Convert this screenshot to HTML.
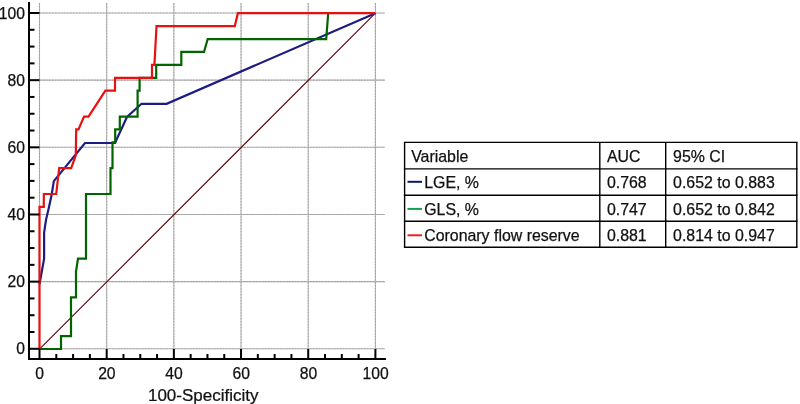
<!DOCTYPE html>
<html><head><meta charset="utf-8"><style>
html,body{margin:0;padding:0;background:#fff;}
body{width:800px;height:404px;overflow:hidden;}
svg{display:block;font-family:"Liberation Sans",sans-serif;will-change:transform;filter:blur(0.25px);}
.gvb{stroke:#b4b4b4;stroke-width:1.1;}
.gvd{stroke:#8c8c8c;stroke-width:1.1;stroke-dasharray:1.5 1.5;opacity:0.5}
.ghb{stroke:#b4b4b4;stroke-width:1.1;}
.ghd{stroke:#8c8c8c;stroke-width:1.1;stroke-dasharray:1.5 1.5;opacity:0.5}
.tl{font-size:15.7px;fill:#111;stroke:#111;stroke-width:0.25px;}
.tt{font-size:17px;fill:#111;stroke:#111;stroke-width:0.25px;}
.td{font-size:15.9px;fill:#111;stroke:#111;stroke-width:0.25px;}
</style></head><body>
<svg width="800" height="404" viewBox="0 0 800 404">
<line x1="39.50" y1="3" x2="39.50" y2="349" class="gvb"/>
<line x1="39.50" y1="3" x2="39.50" y2="349" class="gvd"/>
<line x1="40" y1="348.80" x2="385" y2="348.80" class="ghb"/>
<line x1="40" y1="348.80" x2="385" y2="348.80" class="ghd"/>
<line x1="106.68" y1="3" x2="106.68" y2="349" class="gvb"/>
<line x1="106.68" y1="3" x2="106.68" y2="349" class="gvd"/>
<line x1="40" y1="281.64" x2="385" y2="281.64" class="ghb"/>
<line x1="40" y1="281.64" x2="385" y2="281.64" class="ghd"/>
<line x1="173.86" y1="3" x2="173.86" y2="349" class="gvb"/>
<line x1="173.86" y1="3" x2="173.86" y2="349" class="gvd"/>
<line x1="40" y1="214.48" x2="385" y2="214.48" class="ghb"/>
<line x1="40" y1="214.48" x2="385" y2="214.48" class="ghd"/>
<line x1="241.04" y1="3" x2="241.04" y2="349" class="gvb"/>
<line x1="241.04" y1="3" x2="241.04" y2="349" class="gvd"/>
<line x1="40" y1="147.32" x2="385" y2="147.32" class="ghb"/>
<line x1="40" y1="147.32" x2="385" y2="147.32" class="ghd"/>
<line x1="308.22" y1="3" x2="308.22" y2="349" class="gvb"/>
<line x1="308.22" y1="3" x2="308.22" y2="349" class="gvd"/>
<line x1="40" y1="80.16" x2="385" y2="80.16" class="ghb"/>
<line x1="40" y1="80.16" x2="385" y2="80.16" class="ghd"/>
<line x1="375.40" y1="3" x2="375.40" y2="349" class="gvb"/>
<line x1="375.40" y1="3" x2="375.40" y2="349" class="gvd"/>
<line x1="40" y1="13.00" x2="385" y2="13.00" class="ghb"/>
<line x1="40" y1="13.00" x2="385" y2="13.00" class="ghd"/>
<line x1="39.5" y1="349.1" x2="375.4" y2="13.2" stroke="#5e000e" stroke-width="1.15"/>
<polyline points="39.5,284.43 44.1,258.6 44.1,232.77 46,219.85 49,206.94 51.8,194.02 53.8,181.11 85,143.0 115,143.0 127,117.0 141.5,103.8 166.6,103.8 375.4,13.21" fill="none" stroke="#1c1c82" stroke-width="2.2" stroke-linejoin="miter" stroke-miterlimit="3"/>
<polyline points="39.5,349.0 61,349.0 61,336.08 71,336.08 71,297.34 76,297.34 76,271.51 78,258.6 86,258.6 86,194.02 110.5,194.02 110.5,168.19 112.5,168.19 112.5,142.36 115.2,142.36 115.2,129.45 119.8,129.45 119.8,116.53 137.6,116.53 137.6,90.7 139.6,90.7 139.6,77.79 156.2,77.79 156.2,64.87 181.3,64.87 181.3,51.96 204,51.96 207.7,39.04 326.2,39.04 328.2,13.21" fill="none" stroke="#006400" stroke-width="2.2" stroke-linejoin="miter" stroke-miterlimit="3"/>
<polyline points="39.5,349.0 39.5,206.94 43.8,206.94 43.8,194.02 56.2,194.02 59.2,168.19 71.2,168.19 75.8,155.28 76.2,129.45 78.5,129.45 84,116.53 88.5,116.53 105.4,90.7 115,90.7 115,77.79 152,77.79 152,64.87 154.4,64.87 156.5,26.12 234.8,26.12 237.9,13.21 375.4,13.21" fill="none" stroke="#e81010" stroke-width="2.2" stroke-linejoin="miter" stroke-miterlimit="3"/>
<rect x="28" y="2" width="2" height="358" fill="#000"/>
<rect x="28" y="358" width="358" height="2" fill="#000"/>
<rect x="30" y="347.80" width="9.5" height="2" fill="#000"/>
<rect x="38.50" y="349" width="2" height="9" fill="#000"/>
<rect x="30" y="331.01" width="4.5" height="2" fill="#000"/>
<rect x="55.30" y="354" width="2" height="4" fill="#000"/>
<rect x="30" y="314.22" width="4.5" height="2" fill="#000"/>
<rect x="72.09" y="354" width="2" height="4" fill="#000"/>
<rect x="30" y="297.43" width="4.5" height="2" fill="#000"/>
<rect x="88.88" y="354" width="2" height="4" fill="#000"/>
<rect x="30" y="280.64" width="9.5" height="2" fill="#000"/>
<rect x="105.68" y="349" width="2" height="9" fill="#000"/>
<rect x="30" y="263.85" width="4.5" height="2" fill="#000"/>
<rect x="122.47" y="354" width="2" height="4" fill="#000"/>
<rect x="30" y="247.06" width="4.5" height="2" fill="#000"/>
<rect x="139.27" y="354" width="2" height="4" fill="#000"/>
<rect x="30" y="230.27" width="4.5" height="2" fill="#000"/>
<rect x="156.06" y="354" width="2" height="4" fill="#000"/>
<rect x="30" y="213.48" width="9.5" height="2" fill="#000"/>
<rect x="172.86" y="349" width="2" height="9" fill="#000"/>
<rect x="30" y="196.69" width="4.5" height="2" fill="#000"/>
<rect x="189.65" y="354" width="2" height="4" fill="#000"/>
<rect x="30" y="179.90" width="4.5" height="2" fill="#000"/>
<rect x="206.45" y="354" width="2" height="4" fill="#000"/>
<rect x="30" y="163.11" width="4.5" height="2" fill="#000"/>
<rect x="223.25" y="354" width="2" height="4" fill="#000"/>
<rect x="30" y="146.32" width="9.5" height="2" fill="#000"/>
<rect x="240.04" y="349" width="2" height="9" fill="#000"/>
<rect x="30" y="129.53" width="4.5" height="2" fill="#000"/>
<rect x="256.84" y="354" width="2" height="4" fill="#000"/>
<rect x="30" y="112.74" width="4.5" height="2" fill="#000"/>
<rect x="273.63" y="354" width="2" height="4" fill="#000"/>
<rect x="30" y="95.95" width="4.5" height="2" fill="#000"/>
<rect x="290.43" y="354" width="2" height="4" fill="#000"/>
<rect x="30" y="79.16" width="9.5" height="2" fill="#000"/>
<rect x="307.22" y="349" width="2" height="9" fill="#000"/>
<rect x="30" y="62.37" width="4.5" height="2" fill="#000"/>
<rect x="324.01" y="354" width="2" height="4" fill="#000"/>
<rect x="30" y="45.58" width="4.5" height="2" fill="#000"/>
<rect x="340.81" y="354" width="2" height="4" fill="#000"/>
<rect x="30" y="28.79" width="4.5" height="2" fill="#000"/>
<rect x="357.60" y="354" width="2" height="4" fill="#000"/>
<rect x="30" y="12.00" width="9.5" height="2" fill="#000"/>
<rect x="374.40" y="349" width="2" height="9" fill="#000"/>
<text x="24.9" y="354.30" class="tl" text-anchor="end">0</text>
<text x="39.70" y="379.0" class="tl" text-anchor="middle">0</text>
<text x="24.9" y="287.14" class="tl" text-anchor="end">20</text>
<text x="106.88" y="379.0" class="tl" text-anchor="middle">20</text>
<text x="24.9" y="219.98" class="tl" text-anchor="end">40</text>
<text x="174.06" y="379.0" class="tl" text-anchor="middle">40</text>
<text x="24.9" y="152.82" class="tl" text-anchor="end">60</text>
<text x="241.24" y="379.0" class="tl" text-anchor="middle">60</text>
<text x="24.9" y="85.66" class="tl" text-anchor="end">80</text>
<text x="308.42" y="379.0" class="tl" text-anchor="middle">80</text>
<text x="24.9" y="18.50" class="tl" text-anchor="end">100</text>
<text x="375.60" y="379.0" class="tl" text-anchor="middle">100</text>
<text transform="translate(203.2,400.9) scale(1,0.95)" class="tt" text-anchor="middle">100-Specificity</text>
<line x1="403.90000000000003" y1="142.4" x2="797.5" y2="142.4" stroke="#000" stroke-width="1.4"/>
<line x1="403.90000000000003" y1="168.9" x2="797.5" y2="168.9" stroke="#000" stroke-width="1.4"/>
<line x1="403.90000000000003" y1="195.2" x2="797.5" y2="195.2" stroke="#000" stroke-width="1.4"/>
<line x1="403.90000000000003" y1="221.2" x2="797.5" y2="221.2" stroke="#000" stroke-width="1.4"/>
<line x1="403.90000000000003" y1="247.2" x2="797.5" y2="247.2" stroke="#000" stroke-width="1.4"/>
<line x1="404.6" y1="142.4" x2="404.6" y2="247.2" stroke="#000" stroke-width="1.4"/>
<line x1="599.8" y1="142.4" x2="599.8" y2="247.2" stroke="#000" stroke-width="1.4"/>
<line x1="665.7" y1="142.4" x2="665.7" y2="247.2" stroke="#000" stroke-width="1.4"/>
<line x1="796.8" y1="142.4" x2="796.8" y2="247.2" stroke="#000" stroke-width="1.4"/>
<text transform="translate(411.2,161.90) scale(1,1.0)" class="td">Variable</text>
<text transform="translate(606.9,161.90) scale(1,1.0)" class="td">AUC</text>
<text transform="translate(673.1,161.90) scale(1,1.0)" class="td">95% CI</text>
<line x1="407.5" y1="181.80" x2="422" y2="181.80" stroke="#0b1a62" stroke-width="2"/>
<text transform="translate(424.2,188.00) scale(1,1.0)" class="td">LGE, %</text>
<text transform="translate(606.9,188.00) scale(1,1.0)" class="td">0.768</text>
<text transform="translate(673.1,188.00) scale(1,1.0)" class="td">0.652 to 0.883</text>
<line x1="407.5" y1="208.90" x2="422" y2="208.90" stroke="#14a04c" stroke-width="2"/>
<text transform="translate(424.2,214.50) scale(1,1.0)" class="td">GLS, %</text>
<text transform="translate(606.9,214.50) scale(1,1.0)" class="td">0.747</text>
<text transform="translate(673.1,214.50) scale(1,1.0)" class="td">0.652 to 0.842</text>
<line x1="407.5" y1="235.30" x2="422" y2="235.30" stroke="#e62229" stroke-width="2"/>
<text transform="translate(424.2,240.50) scale(1,1.0)" class="td">Coronary flow reserve</text>
<text transform="translate(606.9,240.50) scale(1,1.0)" class="td">0.881</text>
<text transform="translate(673.1,240.50) scale(1,1.0)" class="td">0.814 to 0.947</text>
</svg>
</body></html>
